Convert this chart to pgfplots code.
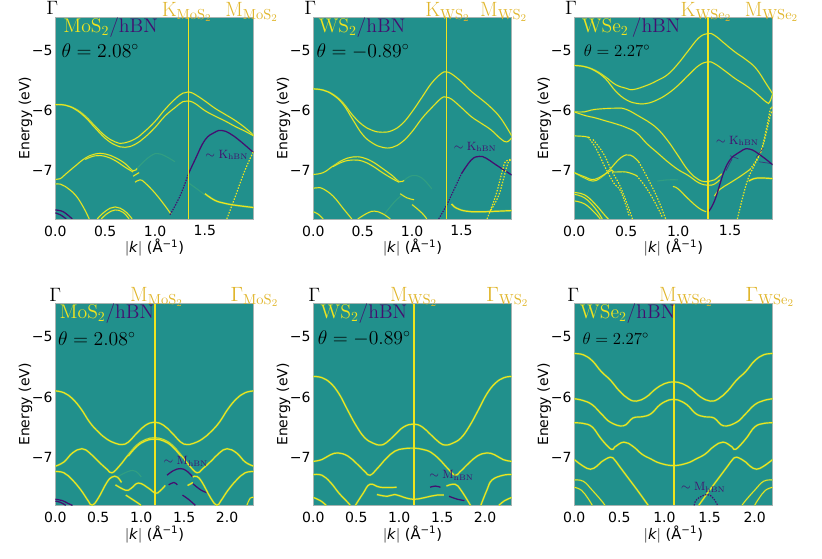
\documentclass[border=0pt]{standalone}
\usepackage{fix-cm}
\usepackage{fontspec}
\usepackage{pgfplots}
\pgfplotsset{compat=1.18}
\newfontfamily\dejavu{DejaVu Sans}
\definecolor{bg}{HTML}{21908C}
\definecolor{yl}{HTML}{F0E41E}
\definecolor{gl}{HTML}{58C06A}
\definecolor{pu}{HTML}{440F70}
\definecolor{gd}{HTML}{E0B52A}
\definecolor{sp}{HTML}{A8B4B2}
\newcommand{\bnd}[1]{\addplot[gl,opacity=0.55,line width=1.7pt,smooth,tension=0.7] coordinates {#1};\addplot[yl,line width=0.9pt,smooth,tension=0.7] coordinates {#1};}
\newcommand{\thn}[1]{\addplot[gl,opacity=0.45,line width=1.4pt,smooth,tension=0.7] coordinates {#1};\addplot[yl,line width=0.7pt,smooth,tension=0.7] coordinates {#1};}
\newcommand{\dtt}[1]{\addplot[yl,line width=0.9pt,dash pattern=on 1.1pt off 1.1pt,smooth,tension=0.7] coordinates {#1};}
\newcommand{\fnt}[1]{\addplot[gl,opacity=0.3,line width=0.8pt,smooth,tension=0.7] coordinates {#1};}
\newcommand{\prp}[1]{\addplot[pu,line width=0.95pt,smooth,tension=0.7] coordinates {#1};}
\newcommand{\prd}[1]{\addplot[pu,line width=0.85pt,dash pattern=on 1.1pt off 0.9pt,smooth,tension=0.7] coordinates {#1};}
\newcommand{\vl}[1]{\addplot[yl,line width=1.15pt] coordinates {(#1,-7.8)(#1,-6)(#1,-4.45)};}
\newcommand{\mat}[2]{{\color{yl}$\mathrm{#1}$}{\color{pu}$\mathrm{/hBN}$}}
\pgfplotsset{
 tmd/.style={
  scale only axis,width=148.8pt,height=151.3pt,
  ymin=-7.8,ymax=-4.45,clip mode=individual,
  axis background/.style={fill=bg},
  axis line style={sp,line width=0.6pt},
  major tick length=0pt,
  ytick={-7,-6,-5},yticklabels={−7,−6,−5},
  tick label style={font=\dejavu\fontsize{10.5}{10.5}\selectfont,black},
  xticklabel style={yshift=-1.5pt},
  yticklabel style={xshift=1.5pt},
  xlabel={\dejavu\fontsize{11}{11}\selectfont $|$\textit{k}$|$ (Å\textsuperscript{−1})},
  ylabel={\dejavu\fontsize{10.5}{10.5}\selectfont Energy (eV)},
  xlabel style={yshift=4.7pt},
  ylabel style={yshift=-7pt},
 },
}
\tikzset{
 toplab/.style={font=\fontsize{15.5}{15.5}\selectfont,text=gd,inner sep=0pt},
 gamlab/.style={font=\fontsize{14.5}{14.5}\selectfont,inner sep=0pt},
 inlab/.style={font=\fontsize{14.8}{14.8}\selectfont,inner sep=0pt,anchor=west},
 inlabs/.style={font=\fontsize{12.6}{12.6}\selectfont,inner sep=0pt,anchor=west},
 hbnlab/.style={font=\fontsize{9}{9}\selectfont,text=pu,inner sep=0pt},
}
\begin{document}
\begin{tikzpicture}
\useasboundingbox (0,0) rectangle (616.5pt,-419.25pt);
% ---------- MoS2 Gamma-K-M
\begin{axis}[tmd,at={(41.5pt,-164.25pt)},anchor=south west,xmin=0,xmax=1.99,xtick={0,0.5,1,1.5},xticklabels={0.0,0.5,1.0,1.5}]
\thn{(0,-5.90)(.1,-5.91)(.2,-5.97)(.3,-6.09)(.4,-6.26)(.5,-6.42)(.6,-6.52)(.68,-6.54)(.8,-6.47)(.9,-6.34)(1.0,-6.18)(1.1,-5.98)(1.2,-5.81)(1.28,-5.71)(1.335,-5.69)(1.4,-5.73)(1.5,-5.84)(1.6,-5.96)(1.7,-6.06)(1.8,-6.16)(1.9,-6.28)(1.99,-6.41)}
\thn{(0,-5.90)(.1,-5.91)(.2,-5.98)(.3,-6.11)(.4,-6.29)(.5,-6.46)(.6,-6.57)(.7,-6.61)(.8,-6.56)(.9,-6.44)(1.0,-6.28)(1.1,-6.09)(1.2,-5.95)(1.28,-5.85)(1.335,-5.84)(1.4,-5.88)(1.5,-6.0)(1.6,-6.09)(1.7,-6.17)(1.8,-6.26)(1.9,-6.34)(1.99,-6.42)}
\thn{(0,-7.14)(.05,-7.13)(.1,-7.06)(.2,-6.92)(.3,-6.79)(.4,-6.72)(.5,-6.72)(.6,-6.78)(.7,-6.88)(.78,-7.0)(.82,-6.96)}
\thn{(.3,-6.81)(.4,-6.75)(.5,-6.76)(.6,-6.83)(.7,-6.94)(.78,-7.02)}
\thn{(.78,-7.09)(.84,-7.03)}
\thn{(0,-7.22)(.05,-7.22)(.1,-7.26)(.2,-7.4)(.28,-7.6)(.34,-7.8)}
\thn{(.8,-7.19)(.85,-7.15)(.9,-7.2)(1.0,-7.37)(1.1,-7.58)(1.16,-7.72)}
\fnt{(.82,-6.96)(.95,-6.76)(1.05,-6.72)(1.2,-6.85)}
\fnt{(1.335,-7.2)(1.42,-7.3)(1.5,-7.4)}
\prd{(1.15,-7.73)(1.25,-7.42)(1.335,-7.05)}
\prp{(1.335,-7.05)(1.4,-6.82)(1.5,-6.49)(1.6,-6.36)(1.67,-6.33)(1.75,-6.38)(1.85,-6.5)(1.99,-6.7)}
\bnd{(1.5,-7.38)(1.6,-7.49)(1.7,-7.54)(1.8,-7.57)(1.99,-7.61)}
\dtt{(1.72,-7.8)(1.8,-7.45)(1.9,-7.0)(1.99,-6.67)}
\thn{(.42,-7.8)(.48,-7.7)(.55,-7.62)(.6,-7.6)(.65,-7.62)(.72,-7.7)(.77,-7.8)}
\thn{(.46,-7.8)(.52,-7.71)(.6,-7.65)(.68,-7.69)(.74,-7.8)}
\prp{(0,-7.65)(.08,-7.68)(.17,-7.8)}
\prp{(0,-7.7)(.05,-7.73)(.11,-7.8)}
\vl{1.335}
\node[inlab] at (axis cs:0.08,-4.62) {\mat{MoS_2}{}};
\node[inlab] at (axis cs:0.06,-5.0) {$\theta=2.08^{\circ}$};
\node[hbnlab] at (axis cs:1.72,-6.74) {$\sim\mathrm{K_{hBN}}$};
\node[gamlab] at (axis cs:-0.03,-4.3) {$\Gamma$};
\node[toplab] at (axis cs:1.32,-4.36) {$\mathrm{K_{MoS_2}}$};
\node[toplab] at (axis cs:1.97,-4.36) {$\mathrm{M_{MoS_2}}$};
\end{axis}
% ---------- WS2 Gamma-K-M
\begin{axis}[tmd,at={(235pt,-164.25pt)},anchor=south west,xmin=0,xmax=2.01,xtick={0,0.5,1,1.5},xticklabels={0.0,0.5,1.0,1.5}]
\thn{(0,-5.64)(.1,-5.66)(.2,-5.73)(.3,-5.87)(.4,-6.08)(.5,-6.24)(.6,-6.33)(.7,-6.36)(.8,-6.33)(.9,-6.22)(1.0,-6.02)(1.1,-5.78)(1.2,-5.54)(1.3,-5.38)(1.35,-5.36)(1.4,-5.39)(1.5,-5.52)(1.6,-5.68)(1.7,-5.81)(1.8,-5.95)(1.9,-6.13)(2.01,-6.42)}
\thn{(0,-5.64)(.1,-5.66)(.2,-5.74)(.3,-5.89)(.4,-6.15)(.5,-6.4)(.6,-6.54)(.7,-6.61)(.8,-6.61)(.9,-6.52)(1.0,-6.35)(1.1,-6.13)(1.2,-5.95)(1.3,-5.79)(1.35,-5.78)(1.4,-5.81)(1.5,-5.95)(1.6,-6.1)(1.7,-6.21)(1.8,-6.32)(1.9,-6.47)(1.96,-6.52)(2.01,-6.45)}
\thn{(0,-7.06)(.1,-7.03)(.2,-6.92)(.3,-6.82)(.4,-6.77)(.5,-6.78)(.6,-6.85)(.7,-6.96)(.8,-7.08)(.87,-7.18)(.92,-7.16)}
\thn{(.2,-6.93)(.3,-6.85)(.4,-6.82)(.5,-6.84)(.6,-6.92)(.7,-7.03)(.8,-7.13)(.87,-7.19)}
\fnt{(.92,-7.16)(1.0,-7.08)(1.1,-7.12)(1.2,-7.3)}
\thn{(.88,-7.38)(.95,-7.45)(1.02,-7.48)}
\thn{(0,-7.29)(.05,-7.28)(.1,-7.3)(.2,-7.42)(.3,-7.62)(.35,-7.72)(.39,-7.8)}
\thn{(1.0,-7.56)(1.1,-7.7)(1.15,-7.8)}
\fnt{(.72,-7.72)(.82,-7.52)(.9,-7.4)}
\prd{(1.27,-7.8)(1.35,-7.57)(1.4,-7.4)(1.5,-7.05)}
\prp{(1.5,-7.05)(1.6,-6.82)(1.68,-6.76)(1.75,-6.79)(1.85,-6.9)(2.01,-7.07)}
\thn{(0,-7.68)(.05,-7.72)(.1,-7.8)}
\thn{(.45,-7.8)(.55,-7.7)(.62,-7.67)(.7,-7.71)(.78,-7.8)}
\bnd{(1.4,-7.55)(1.45,-7.62)(1.55,-7.67)(1.7,-7.68)(2.01,-7.66)}
\dtt{(1.76,-7.8)(1.85,-7.4)(1.92,-6.97)(1.95,-6.84)(2.01,-6.81)}
\dtt{(1.8,-7.65)(1.88,-7.4)(1.94,-7.05)(1.98,-6.84)(2.01,-6.83)}
\vl{1.35}
\node[inlab] at (axis cs:0.05,-4.62) {\mat{WS_2}{}};
\node[inlab] at (axis cs:0.03,-5.02) {$\theta=-0.89^{\circ}$};
\node[hbnlab] at (axis cs:1.64,-6.6) {$\sim\mathrm{K_{hBN}}$};
\node[gamlab] at (axis cs:-0.03,-4.3) {$\Gamma$};
\node[toplab] at (axis cs:1.36,-4.36) {$\mathrm{K_{WS_2}}$};
\node[toplab] at (axis cs:1.93,-4.36) {$\mathrm{M_{WS_2}}$};
\end{axis}
% ---------- WSe2 Gamma-K-M
\begin{axis}[tmd,at={(430.7pt,-164.25pt)},anchor=south west,xmin=0,xmax=1.91,xtick={0,0.5,1,1.5},xticklabels={0.0,0.5,1.0,1.5}]
\thn{(0,-5.25)(.1,-5.27)(.2,-5.33)(.3,-5.44)(.4,-5.57)(.5,-5.63)(.57,-5.65)(.7,-5.58)(.8,-5.5)(.9,-5.4)(1.0,-5.22)(1.1,-5.0)(1.2,-4.79)(1.286,-4.72)(1.35,-4.75)(1.45,-4.89)(1.55,-5.03)(1.65,-5.15)(1.75,-5.3)(1.85,-5.56)(1.91,-5.72)}
\thn{(0,-5.25)(.1,-5.27)(.2,-5.34)(.3,-5.47)(.4,-5.68)(.5,-5.82)(.6,-5.88)(.7,-5.88)(.8,-5.82)(.9,-5.72)(1.0,-5.58)(1.1,-5.41)(1.2,-5.25)(1.286,-5.19)(1.35,-5.22)(1.45,-5.34)(1.55,-5.47)(1.65,-5.58)(1.75,-5.71)(1.85,-5.86)(1.88,-5.86)(1.91,-5.72)}
\thn{(0,-6.02)(.1,-6.02)(.2,-5.98)(.4,-5.96)(.5,-5.98)(.63,-6.1)(.7,-6.17)(.8,-6.3)(.9,-6.5)(1.0,-6.75)(1.1,-7.0)(1.2,-7.15)(1.286,-7.18)(1.35,-7.15)(1.42,-7.05)}
\thn{(0,-6.02)(.1,-6.08)(.2,-6.12)(.3,-6.17)(.4,-6.22)(.5,-6.28)(.6,-6.37)(.7,-6.55)(.8,-6.7)(.9,-6.85)(1.0,-6.98)(1.1,-7.08)(1.2,-7.2)(1.286,-7.24)(1.35,-7.22)(1.4,-7.15)}
\thn{(1.35,-7.42)(1.4,-7.31)(1.5,-7.2)(1.6,-7.09)(1.69,-6.98)}
\dtt{(1.69,-6.98)(1.79,-6.7)(1.85,-6.3)(1.89,-5.96)(1.91,-5.98)}
\dtt{(1.57,-7.8)(1.66,-7.2)(1.73,-6.92)(1.81,-6.62)(1.89,-6.07)(1.91,-6.03)}
\bnd{(1.68,-7.17)(1.76,-7.12)(1.91,-7.13)}
\thn{(0,-6.42)(.1,-6.43)(.15,-6.45)}
\dtt{(.13,-6.44)(.2,-6.6)(.3,-6.95)(.38,-7.2)(.45,-7.35)(.53,-7.75)}
\dtt{(.18,-6.48)(.28,-6.71)(.36,-7.0)(.44,-7.25)(.52,-7.6)(.56,-7.8)}
\thn{(0,-7.03)(.1,-7.12)(.18,-7.17)(.25,-7.12)(.33,-7.0)(.45,-6.78)(.54,-6.74)(.62,-6.85)}
\dtt{(.62,-6.85)(.7,-7.1)(.8,-7.45)(.88,-7.8)}
\thn{(0,-7.03)(.1,-7.1)(.2,-7.14)(.35,-7.0)(.38,-7.02)(.5,-7.02)(.6,-7.08)}
\dtt{(.6,-7.08)(.7,-7.3)(.8,-7.6)(.85,-7.78)}
\thn{(0,-7.36)(.1,-7.4)(.2,-7.55)(.3,-7.75)(.33,-7.8)}
\thn{(0,-7.39)(.1,-7.45)(.2,-7.62)(.27,-7.8)}
\thn{(0,-7.5)(.1,-7.55)(.2,-7.7)(.25,-7.8)}
\fnt{(.8,-7.17)(.9,-7.15)(1.0,-7.15)}
\thn{(.95,-7.26)(1.0,-7.3)(1.1,-7.47)(1.2,-7.62)(1.27,-7.68)}
\prp{(1.28,-7.7)(1.35,-7.5)(1.47,-6.9)(1.6,-6.68)(1.69,-6.64)(1.8,-6.75)(1.91,-6.9)}
\addplot[pu,line width=0.5pt,opacity=0.7] coordinates {(1.5,-6.75)(1.58,-6.8)};
\addplot[pu,line width=0.5pt,opacity=0.7] coordinates {(1.46,-7.0)(1.52,-6.8)};
\addplot[pu,line width=0.5pt,opacity=0.7] coordinates {(1.75,-6.78)(1.82,-6.62)};
\addplot[pu,line width=0.5pt,opacity=0.7] coordinates {(1.78,-6.85)(1.9,-6.88)};
\vl{1.286}
\node[inlab] at (axis cs:0.07,-4.62) {{\color{yl}$\mathrm{WSe_2}$}\,{\color{pu}$\mathrm{/hBN}$}};
\node[inlabs] at (axis cs:0.09,-5.0) {$\theta=2.27^{\circ}$};
\node[hbnlab] at (axis cs:1.57,-6.5) {$\sim\mathrm{K_{hBN}}$};
\node[gamlab] at (axis cs:-0.03,-4.3) {$\Gamma$};
\node[toplab] at (axis cs:1.27,-4.36) {$\mathrm{K_{WSe_2}}$};
\node[toplab] at (axis cs:1.90,-4.36) {$\mathrm{M_{WSe_2}}$};
\end{axis}
% ---------- MoS2 Gamma-M-Gamma
\begin{axis}[tmd,at={(41.5pt,-379pt)},anchor=south west,xmin=0,xmax=2.31,xtick={0,0.5,1,1.5,2},xticklabels={0.0,0.5,1.0,1.5,2.0}]
\bnd{(0,-5.9)(.1,-5.93)(.2,-6.03)(.3,-6.2)(.4,-6.42)(.5,-6.58)(.6,-6.7)(.7,-6.77)(.78,-6.79)(.85,-6.75)(.95,-6.6)(1.05,-6.47)(1.155,-6.42)(1.26,-6.47)(1.36,-6.6)(1.46,-6.75)(1.53,-6.79)(1.61,-6.77)(1.71,-6.7)(1.81,-6.58)(1.91,-6.42)(2.01,-6.2)(2.11,-6.03)(2.21,-5.93)(2.31,-5.9)}
\bnd{(0,-7.15)(.1,-7.08)(.2,-6.93)(.31,-6.86)(.4,-6.93)(.5,-7.07)(.6,-7.2)(.66,-7.26)(.75,-7.14)(.85,-6.96)(.95,-6.8)(1.05,-6.71)(1.155,-6.68)(1.26,-6.71)(1.36,-6.8)(1.46,-6.96)(1.56,-7.14)(1.65,-7.26)(1.71,-7.2)(1.81,-7.07)(1.91,-6.93)(2.0,-6.86)(2.11,-6.93)(2.21,-7.08)(2.31,-7.15)}
\bnd{(.85,-6.98)(.95,-6.82)(1.05,-6.73)(1.155,-6.7)(1.26,-6.73)(1.36,-6.82)(1.46,-6.98)}
\bnd{(0,-7.24)(.1,-7.26)(.2,-7.38)(.3,-7.55)(.38,-7.72)(.43,-7.8)(.5,-7.68)(.6,-7.42)(.66,-7.33)(.72,-7.33)(.77,-7.42)}
\bnd{(.7,-7.46)(.82,-7.55)(.88,-7.52)(.97,-7.43)(1.09,-7.52)(1.165,-7.6)(1.22,-7.56)(1.28,-7.47)}
\bnd{(.82,-7.63)(.97,-7.77)(.99,-7.8)}
\fnt{(.72,-7.33)(.9,-7.22)(1.0,-7.33)}
\prp{(1.3,-7.3)(1.38,-7.22)(1.46,-7.19)(1.53,-7.23)(1.6,-7.33)}
\prp{(1.32,-7.46)(1.38,-7.42)(1.42,-7.46)}
\prp{(1.6,-7.44)(1.7,-7.55)(1.79,-7.6)}
\prp{(1.48,-7.63)(1.55,-7.7)(1.63,-7.8)}
\bnd{(1.54,-7.47)(1.58,-7.44)(1.6,-7.42)}
\bnd{(1.6,-7.33)(1.65,-7.32)(1.71,-7.42)(1.81,-7.68)(1.88,-7.8)(1.93,-7.72)(2.01,-7.55)(2.11,-7.38)(2.21,-7.26)(2.31,-7.24)}
\prp{(0,-7.7)(.08,-7.72)(.15,-7.77)(.2,-7.8)}
\prp{(0,-7.73)(.06,-7.75)(.12,-7.8)}
\thn{(2.23,-7.8)(2.27,-7.68)(2.31,-7.67)}
\vl{1.163}
\node[inlab] at (axis cs:0.05,-4.62) {\mat{MoS_2}{}};
\node[inlab] at (axis cs:0.03,-5.03) {$\theta=2.08^{\circ}$};
\node[hbnlab] at (axis cs:1.52,-7.07) {$\sim\mathrm{M_{hBN}}$};
\node[gamlab] at (axis cs:0.0,-4.3) {$\Gamma$};
\node[toplab] at (axis cs:1.18,-4.34) {$\mathrm{M_{MoS_2}}$};
\node[toplab] at (axis cs:2.32,-4.34) {$\Gamma_{\mathrm{MoS_2}}$};
\end{axis}
% ---------- WS2 Gamma-M-Gamma
\begin{axis}[tmd,at={(235pt,-379pt)},anchor=south west,xmin=0,xmax=2.31,xtick={0,0.5,1,1.5,2},xticklabels={0.0,0.5,1.0,1.5,2.0}]
\bnd{(0,-5.66)(.1,-5.68)(.2,-5.77)(.3,-5.95)(.4,-6.22)(.5,-6.48)(.6,-6.68)(.7,-6.77)(.78,-6.8)(.85,-6.76)(.95,-6.63)(1.05,-6.5)(1.165,-6.45)(1.27,-6.5)(1.37,-6.63)(1.47,-6.76)(1.54,-6.8)(1.62,-6.77)(1.72,-6.68)(1.82,-6.48)(1.92,-6.22)(2.02,-5.95)(2.12,-5.77)(2.22,-5.68)(2.31,-5.66)}
\bnd{(0,-7.07)(.1,-7.04)(.2,-6.96)(.29,-6.93)(.4,-6.98)(.5,-7.1)(.6,-7.24)(.66,-7.3)(.75,-7.18)(.85,-7.02)(.95,-6.9)(1.05,-6.86)(1.165,-6.85)(1.27,-6.87)(1.37,-6.92)(1.47,-7.04)(1.56,-7.18)(1.65,-7.3)(1.71,-7.24)(1.81,-7.1)(1.91,-6.98)(2.02,-6.93)(2.11,-6.96)(2.21,-7.04)(2.31,-7.07)}
\bnd{(0,-7.29)(.1,-7.3)(.2,-7.42)(.3,-7.6)(.4,-7.75)(.43,-7.8)}
\bnd{(.49,-7.8)(.58,-7.6)(.66,-7.45)(.78,-7.5)(.97,-7.5)}
\bnd{(.74,-7.62)(.86,-7.65)(.95,-7.62)(1.06,-7.67)(1.165,-7.7)(1.27,-7.68)(1.36,-7.65)(1.44,-7.63)(1.52,-7.63)}
\prp{(1.36,-7.5)(1.42,-7.48)(1.48,-7.5)}
\bnd{(1.55,-7.48)(1.65,-7.45)(1.72,-7.55)(1.83,-7.8)}
\prp{(1.58,-7.65)(1.68,-7.7)(1.76,-7.72)}
\bnd{(1.95,-7.8)(2.02,-7.55)(2.08,-7.38)(2.21,-7.3)(2.31,-7.29)}
\bnd{(0,-7.67)(.08,-7.72)(.15,-7.8)}
\bnd{(2.16,-7.8)(2.23,-7.72)(2.31,-7.67)}
\vl{1.17}
\node[inlab] at (axis cs:0.08,-4.62) {\mat{WS_2}{}};
\node[inlab] at (axis cs:0.05,-5.03) {$\theta=-0.89^{\circ}$};
\node[hbnlab] at (axis cs:1.61,-7.3) {$\sim\mathrm{M_{hBN}}$};
\node[gamlab] at (axis cs:0.01,-4.3) {$\Gamma$};
\node[toplab] at (axis cs:1.17,-4.34) {$\mathrm{M_{WS_2}}$};
\node[toplab] at (axis cs:2.26,-4.34) {$\Gamma_{\mathrm{WS_2}}$};
\end{axis}
% ---------- WSe2 Gamma-M-Gamma
\begin{axis}[tmd,at={(430.7pt,-379pt)},anchor=south west,xmin=0,xmax=2.2,xtick={0,0.5,1,1.5,2},xticklabels={0.0,0.5,1.0,1.5,2.0}]
\bnd{(0,-5.28)(.1,-5.3)(.2,-5.4)(.3,-5.58)(.4,-5.72)(.5,-5.9)(.6,-6.03)(.69,-6.07)(.8,-6.0)(.9,-5.87)(1.0,-5.78)(1.1,-5.75)(1.2,-5.78)(1.3,-5.87)(1.4,-6.0)(1.51,-6.07)(1.6,-6.03)(1.7,-5.9)(1.8,-5.72)(1.9,-5.58)(2.0,-5.4)(2.1,-5.3)(2.2,-5.28)}
\bnd{(0,-6.03)(.1,-6.06)(.2,-6.13)(.3,-6.28)(.4,-6.42)(.545,-6.48)(.65,-6.35)(.75,-6.33)(.85,-6.28)(.95,-6.13)(1.05,-6.05)(1.1,-6.04)(1.15,-6.05)(1.25,-6.13)(1.35,-6.28)(1.45,-6.33)(1.55,-6.35)(1.655,-6.48)(1.8,-6.42)(1.9,-6.28)(2.0,-6.13)(2.1,-6.06)(2.2,-6.03)}
\bnd{(0,-6.43)(.1,-6.44)(.2,-6.5)(.3,-6.7)(.41,-6.87)(.45,-6.83)(.55,-6.75)(.65,-6.82)(.75,-6.95)(.85,-7.03)(.95,-7.1)(1.1,-7.14)(1.25,-7.1)(1.35,-7.03)(1.45,-6.95)(1.55,-6.82)(1.65,-6.75)(1.75,-6.83)(1.79,-6.87)(1.9,-6.7)(2.0,-6.5)(2.1,-6.44)(2.2,-6.43)}
\bnd{(0,-7.04)(.1,-7.15)(.18,-7.2)(.25,-7.15)(.3,-7.08)(.4,-7.0)(.45,-7.05)(.5,-7.15)(.6,-7.35)(.7,-7.55)(.82,-7.8)}
\bnd{(1.38,-7.8)(1.5,-7.55)(1.6,-7.35)(1.7,-7.15)(1.75,-7.05)(1.8,-7.0)(1.9,-7.08)(1.95,-7.15)(2.02,-7.2)(2.1,-7.15)(2.2,-7.04)}
\thn{(0,-7.38)(.1,-7.4)(.2,-7.55)(.3,-7.72)(.34,-7.8)}
\thn{(0,-7.5)(.08,-7.55)(.15,-7.68)(.2,-7.8)}
\thn{(1.86,-7.8)(1.9,-7.72)(2.0,-7.55)(2.1,-7.4)(2.2,-7.38)}
\thn{(2.0,-7.8)(2.05,-7.68)(2.12,-7.55)(2.2,-7.5)}
\prd{(1.33,-7.8)(1.36,-7.7)(1.47,-7.62)(1.54,-7.68)(1.59,-7.8)}
\vl{1.108}
\node[inlab] at (axis cs:0.06,-4.62) {\mat{WSe_2}{}};
\node[inlabs] at (axis cs:0.09,-5.03) {$\theta=2.27^{\circ}$};
\node[hbnlab] at (axis cs:1.43,-7.5) {$\sim\mathrm{M_{hBN}}$};
\node[gamlab] at (axis cs:-0.01,-4.3) {$\Gamma$};
\node[toplab] at (axis cs:1.24,-4.34) {$\mathrm{M_{WSe_2}}$};
\node[toplab] at (axis cs:2.17,-4.34) {$\Gamma_{\mathrm{WSe_2}}$};
\end{axis}
\end{tikzpicture}
\end{document}
